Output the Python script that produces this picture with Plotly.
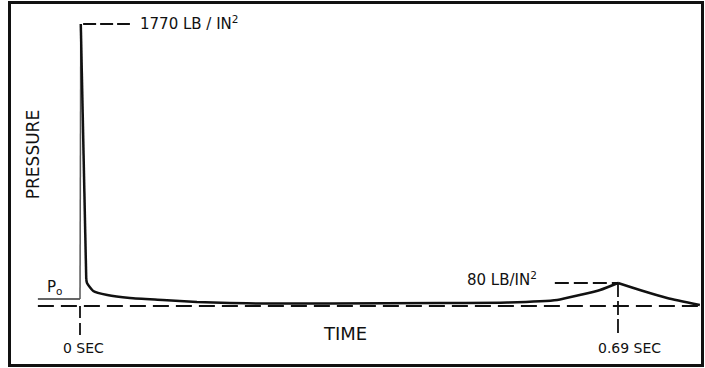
import plotly.graph_objects as go

# ---- data (time in seconds, pressure in schematic relative units; diagram not to scale) ----
rise_t = [0.0, 0.001]
rise_p = [7, 282]

spike_t = [0.001, 0.008]
spike_p = [282, 27]

decay_t = [0.008, 0.009, 0.017, 0.035, 0.064, 0.106, 0.150, 0.192, 0.235, 0.321,
           0.462, 0.548, 0.612, 0.641, 0.667, 0.690]
decay_p = [27, 23, 15, 11, 8, 6, 4, 3, 2.5, 2.5,
           3, 3.5, 6, 11, 16, 23]

fall_t = [0.690, 0.718, 0.753, 0.795]
fall_p = [23, 16, 8, 1]

ambient_t = [-0.054, 0.0]
ambient_p = [7, 7]

baseline_t = [-0.054, 0.799]
baseline_p = [0, 0]

peak1_t, peak1_p = 0.001, 282
peak2_t, peak2_p = 0.690, 23

peak1_label = "1770 LB / IN<sup>2</sup>"
peak2_label = "80 LB/IN<sup>2</sup>"
t_labels = ["0 SEC", "0.69 SEC"]
t_label_pos = [0.0, 0.69]

FONT = "DejaVu Sans"
INK = "#111111"

fig = go.Figure()

# zero reference (dashed)
fig.add_trace(go.Scatter(x=baseline_t, y=baseline_p, mode="lines",
                         line=dict(color=INK, width=2, dash="16px,7px"), hoverinfo="skip"))
# ambient pressure line
fig.add_trace(go.Scatter(x=ambient_t, y=ambient_p, mode="lines",
                         line=dict(color="#333333", width=1.5), hoverinfo="skip"))
# fast rise (faint trace)
fig.add_trace(go.Scatter(x=rise_t, y=rise_p, mode="lines",
                         line=dict(color="#555555", width=1.5), hoverinfo="skip"))
# pressure trace
fig.add_trace(go.Scatter(x=spike_t, y=spike_p, mode="lines",
                         line=dict(color=INK, width=2.5), hoverinfo="skip"))
fig.add_trace(go.Scatter(x=decay_t, y=decay_p, mode="lines", line_shape="spline",
                         line=dict(color=INK, width=2.5, smoothing=0.6), hoverinfo="skip"))
fig.add_trace(go.Scatter(x=fall_t, y=fall_p, mode="lines", line_shape="spline",
                         line=dict(color=INK, width=2.5, smoothing=0.6), hoverinfo="skip"))

# leader lines to the peak labels
fig.add_trace(go.Scatter(x=[peak1_t + 0.003, peak1_t + 0.063], y=[peak1_p, peak1_p], mode="lines",
                         line=dict(color=INK, width=1.8, dash="13px,4px"), hoverinfo="skip"))
fig.add_trace(go.Scatter(x=[peak2_t - 0.081, peak2_t], y=[peak2_p, peak2_p], mode="lines",
                         line=dict(color=INK, width=1.8, dash="14px,5px"), hoverinfo="skip"))
# vertical time markers
fig.add_trace(go.Scatter(x=[t_label_pos[0], t_label_pos[0]], y=[0, -32], mode="lines",
                         line=dict(color=INK, width=1.8, dash="12px,5px"), hoverinfo="skip"))
fig.add_trace(go.Scatter(x=[t_label_pos[1], t_label_pos[1]], y=[peak2_p, -31], mode="lines",
                         line=dict(color=INK, width=1.8, dash="14px,4px"), hoverinfo="skip"))

ann = []
ann.append(dict(x=peak1_t + 0.074, y=peak1_p + 1, text=peak1_label, xanchor="left", yanchor="middle",
                showarrow=False, font=dict(family=FONT, size=15, color=INK)))
ann.append(dict(x=peak2_t - 0.101, y=peak2_p + 4, text=peak2_label, xanchor="right", yanchor="middle",
                showarrow=False, font=dict(family=FONT, size=15, color=INK)))
for t, lab in zip(t_label_pos, t_labels):
    ann.append(dict(x=t + (0.004 if t == 0 else 0.015), y=-42, text=lab, xanchor="center", yanchor="middle",
                    showarrow=False, font=dict(family=FONT, size=14, color=INK)))
ann.append(dict(x=0.34, y=-27, text="TIME", xanchor="center", yanchor="middle",
                showarrow=False, font=dict(family=FONT, size=18, color=INK)))
ann.append(dict(x=-0.060, y=151, text="PRESSURE", textangle=-90, xanchor="center", yanchor="middle",
                showarrow=False, font=dict(family=FONT, size=17, color=INK)))
ann.append(dict(x=-0.033, y=19, text="P<sub>o</sub>", xanchor="center", yanchor="middle",
                showarrow=False, font=dict(family=FONT, size=15, color=INK)))

fig.update_layout(
    width=705, height=368,
    margin=dict(l=0, r=0, t=0, b=0),
    paper_bgcolor="white", plot_bgcolor="white",
    showlegend=False,
    annotations=ann,
    xaxis=dict(range=[-0.1026, 0.8016], visible=False, domain=[0, 1]),
    yaxis=dict(range=[-62, 306], visible=False, domain=[0, 1]),
    shapes=[dict(type="rect", xref="paper", yref="paper",
                 x0=9.5 / 705, x1=702.5 / 705, y0=1 - 365.5 / 368, y1=1 - 2.5 / 368,
                 line=dict(color=INK, width=3), fillcolor="rgba(0,0,0,0)")],
)

fig.write_html("out.html")
